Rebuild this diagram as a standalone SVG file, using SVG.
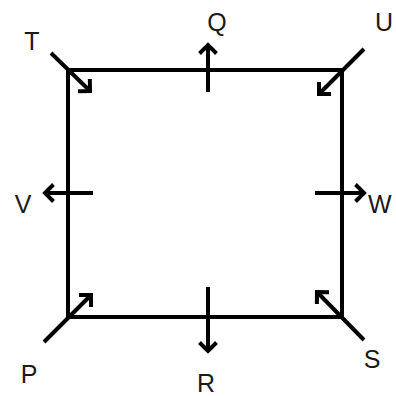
<svg xmlns="http://www.w3.org/2000/svg" width="396" height="396" viewBox="0 0 396 396">
<defs>
<style>
.ln{stroke:#000;stroke-width:4;fill:none;stroke-linecap:butt}
.lbl{font-family:"Liberation Sans",Arial,sans-serif;font-size:25px;fill:#1a1a1a;text-anchor:middle}
</style>
<marker id="ah" markerUnits="userSpaceOnUse" markerWidth="30" markerHeight="30" viewBox="-15 -15 30 30" refX="0" refY="0" orient="auto">
<path d="M-8.5,-8.5 L0,0 L-8.5,8.5" fill="none" stroke="#000" stroke-width="4" stroke-linejoin="miter"/>
</marker>
</defs>
<rect width="396" height="396" fill="#fff"/>
<g id="square">
<rect class="ln" x="68" y="70" width="274" height="247"/>
</g>
<g id="connectors">
<line class="ln" x1="51" y1="53" x2="90" y2="91" marker-end="url(#ah)"/>
<line class="ln" x1="364" y1="49" x2="319" y2="94" marker-end="url(#ah)"/>
<line class="ln" x1="44" y1="342" x2="91" y2="295" marker-end="url(#ah)"/>
<line class="ln" x1="364" y1="340" x2="317" y2="292" marker-end="url(#ah)"/>
<line class="ln" x1="208" y1="92" x2="208" y2="45" marker-end="url(#ah)"/>
<line class="ln" x1="208" y1="287" x2="208" y2="351" marker-end="url(#ah)"/>
<line class="ln" x1="93" y1="193" x2="45" y2="193" marker-end="url(#ah)"/>
<line class="ln" x1="315" y1="193" x2="364" y2="193" marker-end="url(#ah)"/>
</g>
<g id="T"><text class="lbl" x="32" y="50">T</text></g>
<g id="Q"><text class="lbl" x="217" y="31">Q</text></g>
<g id="U"><text class="lbl" x="384" y="31">U</text></g>
<g id="V"><text class="lbl" x="23" y="213">V</text></g>
<g id="W"><text class="lbl" x="368" y="213" style="text-anchor:start">W</text></g>
<g id="P"><text class="lbl" x="29" y="383">P</text></g>
<g id="R"><text class="lbl" x="206" y="392">R</text></g>
<g id="S"><text class="lbl" x="372" y="368">S</text></g>
</svg>
